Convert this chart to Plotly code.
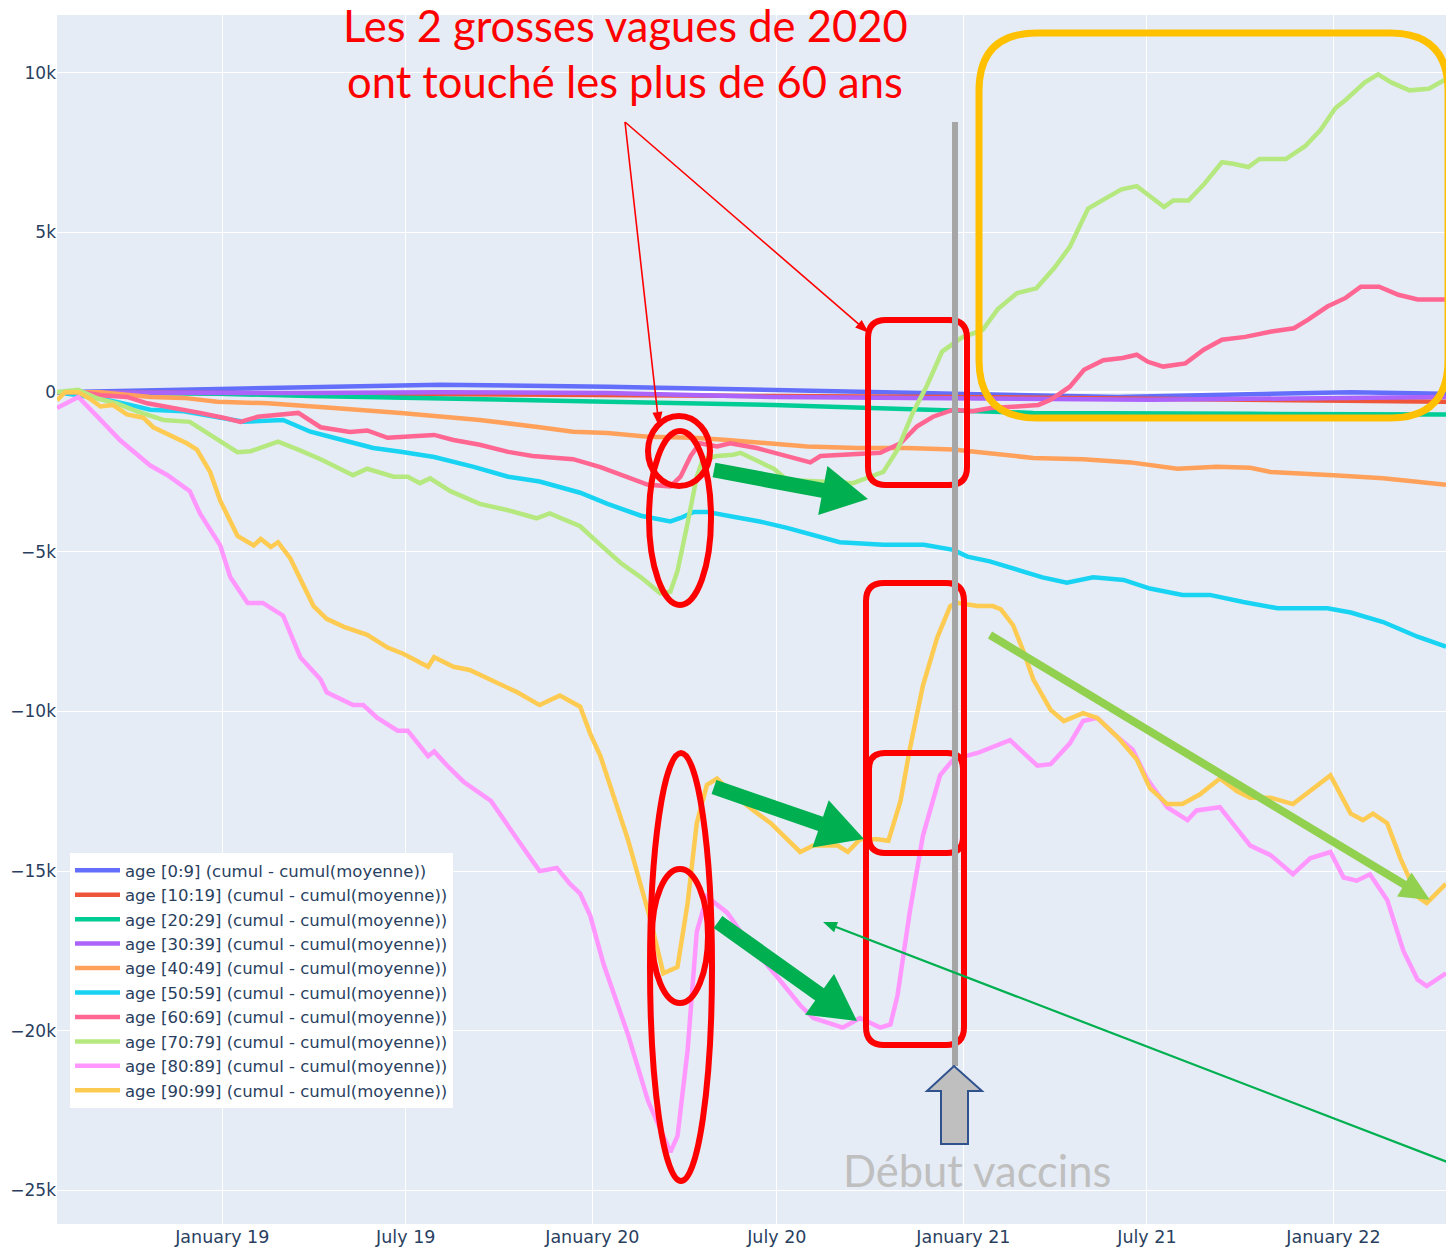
import math
import plotly.graph_objects as go

# ---------------- data ----------------
series_names = [
    "age [0:9] (cumul - cumul(moyenne))",
    "age [10:19] (cumul - cumul(moyenne))",
    "age [20:29] (cumul - cumul(moyenne))",
    "age [30:39] (cumul - cumul(moyenne))",
    "age [40:49] (cumul - cumul(moyenne))",
    "age [50:59] (cumul - cumul(moyenne))",
    "age [60:69] (cumul - cumul(moyenne))",
    "age [70:79] (cumul - cumul(moyenne))",
    "age [80:89] (cumul - cumul(moyenne))",
    "age [90:99] (cumul - cumul(moyenne))",
]
series_colors = ["#636EFA", "#EF553B", "#00CC96", "#AB63FA", "#FFA15A",
                 "#19D3F3", "#FF6692", "#B6E880", "#FF97FF", "#FECB52"]

d_0_9 = ["2018-07-22", "2019-03-29", "2019-08-04", "2020-01-16", "2020-06-28",
         "2020-12-22", "2021-06-02", "2022-01-18", "2022-04-22"]
v_0_9 = [0, 170, 230, 170, 70, -20, -150, 0, -50]

d_10_19 = ["2018-07-22", "2019-08-04", "2020-06-28", "2020-12-22", "2021-07-04", "2022-04-22"]
v_10_19 = [0, -80, -120, -150, -200, -300]

d_20_29 = ["2018-07-22", "2018-10-22", "2018-12-27", "2019-03-29", "2019-09-12", "2020-01-16",
           "2020-06-28", "2020-10-04", "2020-12-22", "2021-03-11", "2021-10-11", "2022-04-22"]
v_20_29 = [0, -20, -50, -120, -240, -300, -400, -500, -550, -650, -680, -700]

d_30_39 = ["2018-07-22", "2019-03-29", "2019-08-04", "2020-01-16", "2020-06-28",
           "2020-12-22", "2021-07-04", "2022-04-22"]
v_30_39 = [0, -30, 0, -30, -150, -180, -240, -150]

d_40_49 = ["2018-07-22", "2018-09-03", "2018-10-22", "2018-11-24", "2018-12-27", "2019-02-15",
           "2019-04-21", "2019-06-26", "2019-09-12", "2019-10-10", "2019-11-10", "2019-12-13",
           "2020-01-16", "2020-02-25", "2020-04-10", "2020-05-13", "2020-06-28", "2020-07-31",
           "2020-09-18", "2020-11-06", "2020-12-22", "2021-01-20", "2021-03-11", "2021-04-29",
           "2021-06-15", "2021-07-31", "2021-09-08", "2021-10-11", "2021-10-31", "2022-01-01",
           "2022-02-19", "2022-04-22"]
v_40_49 = [0, 0, -150, -180, -300, -350,
           -500, -650, -870, -970, -1100, -1240,
           -1280, -1400, -1430, -1500, -1600, -1700,
           -1750, -1750, -1800, -1900, -2060, -2100,
           -2200, -2400, -2340, -2370, -2500, -2600,
           -2700, -2900]

d_50_59 = ["2018-07-22", "2018-09-03", "2018-10-02", "2018-10-22", "2018-11-24", "2018-12-27",
           "2019-01-22", "2019-03-02", "2019-03-29", "2019-04-21", "2019-05-30", "2019-06-26",
           "2019-07-29", "2019-09-06", "2019-10-10", "2019-11-10", "2019-12-20", "2020-01-16",
           "2020-02-18", "2020-03-18", "2020-03-28", "2020-04-10", "2020-04-23", "2020-05-19",
           "2020-06-14", "2020-07-11", "2020-08-09", "2020-09-01", "2020-10-14", "2020-11-23",
           "2020-12-22", "2021-01-05", "2021-01-27", "2021-02-23", "2021-03-20", "2021-04-13",
           "2021-05-09", "2021-06-08", "2021-07-04", "2021-08-05", "2021-09-01", "2021-10-04",
           "2021-11-07", "2021-12-26", "2022-01-18", "2022-02-19", "2022-03-25", "2022-04-22"]
v_50_59 = [0, -200, -400, -550, -600, -770,
           -930, -870, -1240, -1430, -1750, -1870,
           -2030, -2340, -2650, -2800, -3150, -3500,
           -3870, -4050, -3940, -3750, -3750, -3900,
           -4050, -4250, -4500, -4700, -4780, -4780,
           -4940, -5150, -5300, -5570, -5800, -5970,
           -5800, -5880, -6150, -6350, -6350, -6570,
           -6770, -6770, -6900, -7200, -7660, -7970]

d_60_69 = ["2018-07-22", "2018-08-17", "2018-09-03", "2018-09-29", "2018-10-19", "2018-11-17",
           "2018-12-10", "2019-01-02", "2019-01-19", "2019-02-05", "2019-02-25", "2019-03-17",
           "2019-04-08", "2019-05-07", "2019-05-24", "2019-06-13", "2019-07-29", "2019-08-17",
           "2019-09-12", "2019-10-10", "2019-11-03", "2019-12-13", "2020-01-09", "2020-02-05",
           "2020-02-25", "2020-03-18", "2020-03-28", "2020-04-07", "2020-04-16", "2020-05-03",
           "2020-05-16", "2020-06-11", "2020-07-14", "2020-08-03", "2020-08-13", "2020-09-18",
           "2020-10-11", "2020-10-31", "2020-11-16", "2020-12-02", "2020-12-22", "2021-01-10",
           "2021-01-28", "2021-02-23", "2021-03-16", "2021-03-28", "2021-04-16", "2021-04-30",
           "2021-05-19", "2021-06-07", "2021-06-21", "2021-07-02", "2021-07-17", "2021-08-08",
           "2021-08-26", "2021-09-13", "2021-10-06", "2021-11-01", "2021-11-23", "2021-12-07",
           "2021-12-26", "2022-01-13", "2022-01-28", "2022-02-15", "2022-03-06", "2022-03-25",
           "2022-04-22"]
v_60_69 = [0, 0, -100, -150, -350, -500,
           -650, -800, -930, -770, -700, -650,
           -1100, -1250, -1200, -1430, -1340, -1500,
           -1650, -1870, -2000, -2100, -2350, -2650,
           -2900, -2950, -2650, -2000, -1600, -1700,
           -1600, -1750, -2050, -2200, -2000, -1960,
           -1900, -1600, -1080, -770, -550, -600,
           -500, -450, -400, -240, 170, 700,
           1000, 1070, 1170, 950, 800, 900,
           1330, 1640, 1730, 1900, 2000, 2270,
           2680, 2950, 3300, 3300, 3050, 2900,
           2900]

d_70_79 = ["2018-07-22", "2018-08-12", "2018-08-31", "2018-09-19", "2018-10-09", "2018-11-04",
           "2018-11-30", "2018-12-27", "2019-01-16", "2019-01-29", "2019-02-25", "2019-03-17",
           "2019-04-08", "2019-05-10", "2019-05-24", "2019-06-19", "2019-07-03", "2019-07-15",
           "2019-07-25", "2019-08-14", "2019-09-12", "2019-10-10", "2019-11-07", "2019-11-20",
           "2019-12-20", "2020-01-06", "2020-01-29", "2020-02-18", "2020-03-08", "2020-03-18",
           "2020-03-25", "2020-04-04", "2020-04-13", "2020-04-19", "2020-05-03", "2020-05-19",
           "2020-05-26", "2020-06-28", "2020-07-11", "2020-08-13", "2020-09-14", "2020-10-01",
           "2020-10-14", "2020-10-28", "2020-11-12", "2020-11-26", "2020-12-11", "2020-12-30",
           "2021-01-20", "2021-02-04", "2021-02-23", "2021-03-14", "2021-04-01", "2021-04-16",
           "2021-05-04", "2021-05-23", "2021-06-06", "2021-06-21", "2021-07-02", "2021-07-18",
           "2021-07-27", "2021-08-11", "2021-08-26", "2021-09-13", "2021-09-24", "2021-10-09",
           "2021-10-20", "2021-11-15", "2021-12-04", "2021-12-19", "2022-01-03", "2022-01-13",
           "2022-02-01", "2022-02-14", "2022-02-27", "2022-03-17", "2022-04-05", "2022-04-22"]
v_70_79 = [0, 70, -200, -350, -600, -870,
           -930, -1500, -1880, -1850, -1550, -1800,
           -2100, -2600, -2400, -2650, -2650, -2850,
           -2700, -3100, -3500, -3700, -3950, -3800,
           -4200, -4700, -5350, -5800, -6300, -6250,
           -5600, -4100, -2650, -2100, -2000, -1960,
           -1900, -2400, -2750, -2800, -2850, -2650,
           -2500, -1800, -650, 200, 1270, 1700,
           1950, 2600, 3100, 3250, 3900, 4550,
           5750, 6100, 6350, 6450, 6200, 5800,
           6000, 6000, 6500, 7200, 7150, 7050,
           7300, 7300, 7700, 8200, 8900, 9150,
           9700, 9950, 9700, 9450, 9500, 9800]

d_80_89 = ["2018-07-22", "2018-08-12", "2018-09-03", "2018-09-22", "2018-10-22", "2018-11-08",
           "2018-11-30", "2018-12-10", "2018-12-30", "2019-01-09", "2019-01-26", "2019-02-10",
           "2019-03-02", "2019-03-19", "2019-04-08", "2019-04-14", "2019-05-10", "2019-05-20",
           "2019-06-03", "2019-06-23", "2019-07-03", "2019-07-23", "2019-07-29", "2019-08-11",
           "2019-08-27", "2019-09-23", "2019-10-19", "2019-11-10", "2019-11-27", "2019-12-10",
           "2019-12-20", "2019-12-30", "2020-01-12", "2020-02-05", "2020-02-25", "2020-03-18",
           "2020-03-25", "2020-04-04", "2020-04-13", "2020-04-23", "2020-05-13", "2020-06-02",
           "2020-07-01", "2020-07-24", "2020-08-06", "2020-09-04", "2020-09-21", "2020-10-11",
           "2020-10-21", "2020-10-28", "2020-11-09", "2020-11-22", "2020-12-09", "2020-12-22",
           "2021-01-15", "2021-02-16", "2021-03-15", "2021-03-28", "2021-04-16", "2021-04-29",
           "2021-05-13", "2021-06-02", "2021-06-17", "2021-07-01", "2021-07-21", "2021-08-10",
           "2021-08-19", "2021-09-11", "2021-09-21", "2021-10-11", "2021-10-31", "2021-11-22",
           "2021-12-09", "2021-12-29", "2022-01-11", "2022-01-24", "2022-02-06", "2022-02-23",
           "2022-03-11", "2022-03-25", "2022-04-03", "2022-04-22"]
v_80_89 = [-500, -150, -870, -1500, -2300, -2600,
           -3100, -3800, -4800, -5800, -6600, -6600,
           -7000, -8300, -9000, -9400, -9800, -9800,
           -10200, -10600, -10600, -11400, -11250, -11700,
           -12200, -12800, -14000, -15000, -14900, -15400,
           -15700, -16400, -17900, -20100, -22200, -23800,
           -23300, -20600, -16900, -15800, -16300, -17200,
           -18300, -19200, -19600, -19900, -19600, -19900,
           -19800, -18900, -16300, -13900, -12000, -11500,
           -11300, -10900, -11700, -11650, -11000, -10300,
           -10200, -10800, -11200, -12100, -13000, -13400,
           -13100, -13000, -13400, -14200, -14500, -15100,
           -14600, -14400, -15200, -15300, -15100, -15900,
           -17500, -18400, -18600, -18200]

d_90_99 = ["2018-07-22", "2018-07-30", "2018-08-12", "2018-08-23", "2018-09-03", "2018-09-15",
           "2018-09-29", "2018-10-15", "2018-10-25", "2018-11-10", "2018-11-27", "2018-12-07",
           "2018-12-20", "2018-12-30", "2019-01-16", "2019-02-01", "2019-02-08", "2019-02-18",
           "2019-02-25", "2019-03-09", "2019-04-01", "2019-04-14", "2019-05-01", "2019-05-24",
           "2019-06-13", "2019-06-29", "2019-07-23", "2019-07-29", "2019-08-17", "2019-09-02",
           "2019-09-23", "2019-10-19", "2019-11-10", "2019-11-30", "2019-12-20", "2019-12-30",
           "2020-01-09", "2020-02-05", "2020-02-28", "2020-03-11", "2020-03-25", "2020-04-04",
           "2020-04-13", "2020-04-23", "2020-05-03", "2020-05-19", "2020-06-08", "2020-06-25",
           "2020-07-11", "2020-07-24", "2020-08-06", "2020-08-30", "2020-09-09", "2020-09-21",
           "2020-10-08", "2020-10-19", "2020-10-31", "2020-11-09", "2020-11-22", "2020-12-06",
           "2020-12-19", "2020-12-26", "2021-01-15", "2021-01-30", "2021-02-07", "2021-02-19",
           "2021-03-01", "2021-03-11", "2021-03-28", "2021-04-10", "2021-04-29", "2021-05-13",
           "2021-06-02", "2021-06-21", "2021-07-04", "2021-07-21", "2021-08-05", "2021-08-22",
           "2021-09-11", "2021-09-28", "2021-10-11", "2021-10-31", "2021-11-22", "2021-12-09",
           "2021-12-29", "2022-01-18", "2022-01-30", "2022-02-09", "2022-02-23", "2022-03-08",
           "2022-03-25", "2022-04-03", "2022-04-22"]
v_90_99 = [-250, 0, 0, -200, -450, -400,
           -700, -800, -1100, -1350, -1600, -1800,
           -2500, -3400, -4500, -4800, -4600, -4850,
           -4700, -5200, -6700, -7100, -7350, -7600,
           -8000, -8200, -8600, -8300, -8600, -8700,
           -9000, -9400, -9800, -9500, -9850, -10700,
           -11400, -14000, -16600, -18200, -18000, -16000,
           -13500, -12300, -12100, -12600, -13100, -13500,
           -14000, -14400, -14200, -14200, -14400, -14000,
           -14000, -14050, -12800, -11200, -9200, -7700,
           -6700, -6600, -6700, -6700, -6800, -7300,
           -8100, -9000, -9950, -10300, -10050, -10200,
           -10800, -11500, -12400, -12900, -12900, -12600,
           -12100, -12500, -12700, -12700, -12900, -12500,
           -12000, -13200, -13400, -13200, -13500, -14600,
           -15800, -16000, -15400]

all_dates = [d_0_9, d_10_19, d_20_29, d_30_39, d_40_49, d_50_59, d_60_69, d_70_79, d_80_89, d_90_99]
all_values = [v_0_9, v_10_19, v_20_29, v_30_39, v_40_49, v_50_59, v_60_69, v_70_79, v_80_89, v_90_99]

x_range = ["2018-07-22", "2022-04-22"]
y_range = [-26050, 11810]

# ---------------- figure ----------------
fig = go.Figure()
for name, col, dd, vv in zip(series_names, series_colors, all_dates, all_values):
    assert len(dd) == len(vv), (name, len(dd), len(vv))
    fig.add_trace(go.Scatter(x=dd, y=vv, mode="lines", name=name,
                             line=dict(color=col, width=4.5)))

W, H = 1446, 1247
L, R, T, B = 57, 1446, 15, 1224


def X(p):
    return (p - L) / (R - L)


def Y(q):
    return (B - q) / (B - T)


def rrect(x0, y0, x1, y1, r):
    return (f"M{X(x0 + r)},{Y(y0)} L{X(x1 - r)},{Y(y0)} Q{X(x1)},{Y(y0)} {X(x1)},{Y(y0 + r)} "
            f"L{X(x1)},{Y(y1 - r)} Q{X(x1)},{Y(y1)} {X(x1 - r)},{Y(y1)} "
            f"L{X(x0 + r)},{Y(y1)} Q{X(x0)},{Y(y1)} {X(x0)},{Y(y1 - r)} "
            f"L{X(x0)},{Y(y0 + r)} Q{X(x0)},{Y(y0)} {X(x0 + r)},{Y(y0)} Z")


def arrow(x0, y0, x1, y1, sw, hl, hw):
    dx, dy = x1 - x0, y1 - y0
    n = math.hypot(dx, dy)
    ux, uy = dx / n, dy / n
    nx, ny = -uy, ux
    bx, by = x1 - ux * hl, y1 - uy * hl
    pts = [(x0 + nx * sw / 2, y0 + ny * sw / 2), (bx + nx * sw / 2, by + ny * sw / 2),
           (bx + nx * hw / 2, by + ny * hw / 2), (x1, y1),
           (bx - nx * hw / 2, by - ny * hw / 2), (bx - nx * sw / 2, by - ny * sw / 2),
           (x0 - nx * sw / 2, y0 - ny * sw / 2)]
    return "M" + " L".join(f"{X(a)},{Y(b)}" for a, b in pts) + " Z"


def poly(pts):
    return "M" + " L".join(f"{X(a)},{Y(b)}" for a, b in pts) + " Z"


shapes = []
RED = "#FF0000"
for (x0, y0, x1, y1, r) in [(868, 320, 967, 485, 18), (866, 583, 964, 1045, 18), (869, 753, 963, 853, 16)]:
    shapes.append(dict(type="path", xref="paper", yref="paper", path=rrect(x0, y0, x1, y1, r),
                       line=dict(color=RED, width=6)))
for (cx, cy, rx, ry) in [(679, 451, 31, 35), (680, 518, 31, 87), (681, 967, 31, 214), (680, 936, 28, 67)]:
    shapes.append(dict(type="circle", xref="paper", yref="paper",
                       x0=X(cx - rx), x1=X(cx + rx), y0=Y(cy + ry), y1=Y(cy - ry),
                       line=dict(color=RED, width=6)))
shapes.append(dict(type="path", xref="paper", yref="paper", path=rrect(979, 33, 1448, 418, 58),
                   line=dict(color="#FFC000", width=7)))
shapes.append(dict(type="line", xref="paper", yref="paper", x0=X(955), x1=X(955), y0=Y(122), y1=Y(1066),
                   line=dict(color="#A6A6A6", width=6)))
shapes.append(dict(type="path", xref="paper", yref="paper",
                   path=poly([(941, 1144), (941, 1091), (927, 1091), (954, 1066), (982, 1091), (968, 1091), (968, 1144)]),
                   fillcolor="#BFBFBF", line=dict(color="#2F528F", width=2)))
GREEN = "#00B050"
for (x0, y0, x1, y1) in [(714, 470, 868, 499), (714, 787, 864, 839), (718, 922, 857, 1021)]:
    shapes.append(dict(type="path", xref="paper", yref="paper", path=arrow(x0, y0, x1, y1, 15, 46, 50),
                       fillcolor=GREEN, line=dict(width=0)))
shapes.append(dict(type="path", xref="paper", yref="paper", path=arrow(990, 635, 1430, 900, 8, 30, 28),
                   fillcolor="#92D050", line=dict(width=0)))
shapes.append(dict(type="path", xref="paper", yref="paper", path=arrow(1450, 1163, 823, 922, 2.2, 14, 11),
                   fillcolor=GREEN, line=dict(width=0)))
for (x0, y0, x1, y1) in [(625, 122, 659, 426), (625, 122, 869, 333)]:
    shapes.append(dict(type="path", xref="paper", yref="paper", path=arrow(x0, y0, x1, y1, 1.6, 14, 10),
                       fillcolor=RED, line=dict(width=0)))

annotations = [
    dict(text="Les 2 grosses vagues de 2020", x=X(625), y=Y(25), xref="paper", yref="paper",
         showarrow=False, xanchor="center", yanchor="middle",
         font=dict(family="Lato", size=43.5, color=RED)),
    dict(text="ont touché les plus de 60 ans", x=X(625), y=Y(81), xref="paper", yref="paper",
         showarrow=False, xanchor="center", yanchor="middle",
         font=dict(family="Lato", size=43.5, color=RED)),
    dict(text="Début vaccins", x=X(977), y=Y(1170), xref="paper", yref="paper",
         showarrow=False, xanchor="center", yanchor="middle",
         font=dict(family="Lato", size=43.5, color="#BFBFBF")),
]

fig.update_layout(
    template="plotly",
    width=W, height=H,
    margin=dict(l=L, r=W - R, t=T, b=H - B),
    font=dict(family="DejaVu Sans", size=16.5, color="#2a3f5f"),
    showlegend=True,
    legend=dict(x=X(70), y=Y(1108), xanchor="left", yanchor="bottom",
                bgcolor="white", font=dict(size=16.5), itemwidth=45, tracegroupgap=0),
    xaxis=dict(range=x_range, dtick="M6", tick0="2019-01-01", tickformat="%B %y",
               showgrid=True, zeroline=False, tickfont=dict(size=17.5)),
    yaxis=dict(range=y_range, dtick=5000, showgrid=True, tickfont=dict(size=17)),
    shapes=shapes,
    annotations=annotations,
)

fig.write_html("out.html", config={"displayModeBar": False},
               post_script="document.body.style.margin='0px';document.body.style.overflow='hidden';")
